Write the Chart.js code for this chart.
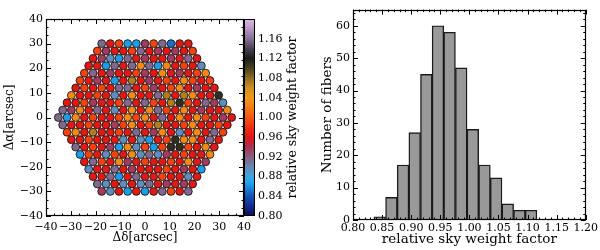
<!DOCTYPE html>
<html><head><meta charset="utf-8">
<script src="https://cdn.jsdelivr.net/npm/chart.js@4.4.1/dist/chart.umd.min.js"></script>
<style>
html,body{margin:0;padding:0;background:#fff;}
#wrap{position:relative;width:600px;height:250px;background:#fff;}
canvas{position:absolute;left:0;top:0;}
</style></head><body>
<div id="wrap">
<canvas id="map" width="600" height="250"></canvas>
<canvas id="cbar" width="600" height="250"></canvas>
<canvas id="hist" width="600" height="250"></canvas>
</div>
<script>
// ---------- DATA ----------
// fiber rows (top to bottom), relative sky weight factor per fiber, left to right
const rowY = [30,27,24,21,18,15,12,9,6,3,0,-3,-6,-9,-12,-15,-18,-21,-24,-27,-30];
const row30  = [0.915,0.962,0.99,0.865,0.865,0.935,0.99,0.915,0.85,0.962,0.962];
const row27  = [0.99,0.935,0.962,0.962,0.99,0.915,0.962,0.935,0.962,0.935,0.962,0.99];
const row24  = [0.962,0.935,0.895,0.865,0.915,0.962,0.935,0.962,0.962,0.935,0.962,0.915,0.962];
const row21  = [0.962,0.962,0.865,0.915,0.962,0.915,1.03,0.915,0.865,1.03,0.962,0.99,0.962,0.895];
const row18  = [0.99,0.915,0.962,0.935,0.962,0.962,0.99,0.935,0.962,1.03,0.962,0.935,0.962,0.99,1.03];
const row15  = [0.99,0.962,0.935,0.962,0.865,0.962,1.07,0.962,0.935,0.962,0.99,0.962,1.03,0.99,0.962,0.99];
const row12  = [0.962,0.99,0.962,0.99,0.962,0.915,0.915,0.962,0.99,0.935,0.962,0.99,1.03,0.962,0.935,0.962,0.962];
const row09  = [1.03,0.962,0.962,0.99,0.962,0.895,0.962,1.03,0.962,0.962,0.915,1.07,0.962,1.07,1.03,0.962,0.962,1.11];
const row06  = [0.962,0.962,0.99,0.935,0.962,0.962,0.99,0.915,0.962,0.915,0.99,0.962,1.07,1.11,0.99,0.962,0.915,0.935,0.895];
const row03  = [0.915,0.935,1.03,0.962,0.915,0.962,0.895,0.962,1.03,0.962,1.03,0.915,0.99,0.962,1.03,0.962,0.935,0.962,0.962,1.03];
const row00  = [0.915,0.865,1.03,0.962,0.99,0.962,0.962,0.99,1.03,0.99,1.03,0.962,0.915,0.962,1.03,0.962,1.03,0.99,0.962,0.935,0.962];
const rowM03 = [0.915,0.962,0.962,0.99,0.962,0.962,0.935,0.99,1.03,0.962,0.99,1.07,0.962,0.962,0.99,1.03,0.962,0.962,0.99,0.962];
const rowM06 = [0.99,1.03,0.962,1.07,0.962,0.962,0.99,0.962,0.915,0.962,0.935,1.03,0.962,0.895,0.962,1.03,0.962,0.915,0.99];
const rowM09 = [0.962,0.962,0.99,0.962,0.962,0.962,0.895,0.962,0.895,0.865,0.962,0.99,1.11,1.03,1.03,0.962,0.915,0.962];
const rowM12 = [0.915,0.962,0.99,0.962,0.935,0.865,1.03,0.895,0.99,0.865,0.99,1.11,1.11,0.99,0.962,1.03,0.962];
const rowM15 = [0.865,0.99,0.962,0.895,0.99,0.962,1.03,0.895,0.915,0.895,0.935,0.962,0.99,0.962,0.962,1.03];
const rowM18 = [0.962,0.915,0.99,0.962,1.03,0.935,0.962,0.99,0.962,0.962,0.99,0.962,1.03,0.962,0.935];
const rowM21 = [0.895,0.962,0.962,0.915,0.962,0.935,0.962,0.962,0.962,0.99,0.962,0.935,0.962,0.865];
const rowM24 = [0.962,0.962,0.915,0.865,0.962,0.915,0.962,0.962,0.99,0.962,0.962,0.895,0.962];
const rowM27 = [0.915,0.895,0.962,0.895,0.962,0.895,0.915,0.962,0.935,0.962,0.935,0.962];
const rowM30 = [0.935,0.895,0.962,0.865,0.962,0.865,0.962,0.915,0.99,0.962,0.915];
const fiberRows = [row30,row27,row24,row21,row18,row15,row12,row09,row06,row03,row00,
                   rowM03,rowM06,rowM09,rowM12,rowM15,rowM18,rowM21,rowM24,rowM27,rowM30];
const fiberPitch = 3.5; // arcsec between neighbouring fibers in a row

// histogram
const binCenters = [0.846,0.866,0.886,0.906,0.926,0.946,0.966,0.986,1.006,1.026,1.046,1.066,1.086,1.106];
const binCounts  = [1,7,17,27,45,60,58,47,28,17,13,5,3,3];

// ticks
const mapTicks  = [-40,-30,-20,-10,0,10,20,30,40];
const cbarTicks = [0.80,0.84,0.88,0.92,0.96,1.00,1.04,1.08,1.12,1.16];
const histXTicks = [0.80,0.85,0.90,0.95,1.00,1.05,1.10,1.15,1.20];
const histYTicks = [0,10,20,30,40,50,60];

// ---------- STYLE ----------
const FONT = "'DejaVu Serif', 'Liberation Serif', serif";
const cmapStops = [
 [0.80,'#0a0a55'],[0.82,'#102c90'],[0.84,'#1452b8'],[0.86,'#1a90e0'],[0.87,'#22a8f0'],
 [0.88,'#3ca6e2'],[0.90,'#6a86b2'],[0.92,'#8a5e80'],[0.94,'#aa3052'],[0.96,'#e01616'],
 [0.98,'#f22c10'],[1.00,'#f65610'],[1.02,'#f87a14'],[1.04,'#f09818'],[1.06,'#d09020'],
 [1.08,'#906c20'],[1.10,'#484020'],[1.12,'#1c1c1c'],[1.14,'#4a4250'],[1.16,'#86709a'],
 [1.18,'#b896c4'],[1.20,'#e0b8e8']];
function hex2rgb(h){return [parseInt(h.slice(1,3),16),parseInt(h.slice(3,5),16),parseInt(h.slice(5,7),16)];}
function cmap(v){
  const s=cmapStops;
  if(v<=s[0][0]) return s[0][1];
  for(let i=1;i<s.length;i++){
    if(v<=s[i][0]){
      const t=(v-s[i-1][0])/(s[i][0]-s[i-1][0]);
      const a=hex2rgb(s[i-1][1]), b=hex2rgb(s[i][1]);
      return 'rgb('+a.map((c,k)=>Math.round(c+(b[k]-c)*t)).join(',')+')';
    }
  }
  return s[s.length-1][1];
}

const fiberPoints=[];
fiberRows.forEach((vals,r)=>{
  const x0=-(vals.length-1)*fiberPitch/2;
  vals.forEach((v,i)=>fiberPoints.push({x:x0+i*fiberPitch,y:rowY[r],v:v}));
});

// frame + inward ticks on all four sides
const frameTicks={
  id:'frameTicks',
  afterDatasetsDraw(chart,args,o){
    const {ctx,chartArea:a,scales}=chart;
    ctx.save();
    ctx.strokeStyle='#000';ctx.lineWidth=1;
    function draw(scale,major,minor,horiz){
      const n=Math.floor((scale.max-scale.min)/minor+1e-6);
      for(let i=0;i<=n;i++){
        const v=scale.min+i*minor;
        const q=v/major;
        const isMajor=Math.abs(q-Math.round(q))<1e-4;
        const L=isMajor?o.majorLen:o.minorLen;
        const p=Math.round(scale.getPixelForValue(v))+0.5;
        ctx.beginPath();
        if(horiz){ctx.moveTo(p,a.bottom);ctx.lineTo(p,a.bottom-L);ctx.moveTo(p,a.top);ctx.lineTo(p,a.top+L);}
        else{ctx.moveTo(a.left,p);ctx.lineTo(a.left+L,p);ctx.moveTo(a.right,p);ctx.lineTo(a.right-L,p);}
        ctx.stroke();
      }
    }
    draw(scales.x,o.xMajor,o.xMinor,true);
    draw(scales.y,o.yMajor,o.yMinor,false);
    ctx.lineWidth=1.2;
    ctx.strokeRect(Math.round(a.left)+0.5,Math.round(a.top)+0.5,Math.round(a.width)-1,Math.round(a.height)-1);
    ctx.restore();
  }
};

const minus=v=>String(v).replace('-','\u2212');
const tickFont={family:FONT,size:11};

// ---------- MAP ----------
new Chart(document.getElementById('map'),{
  type:'scatter',
  data:{datasets:[{
    data:fiberPoints,
    pointRadius:3.95,
    pointBorderWidth:0.85,
    pointBorderColor:'#111',
    pointBackgroundColor:ctx=>cmap(ctx.raw.v)
  }]},
  options:{
    responsive:false,animation:false,events:[],devicePixelRatio:1,
    layout:{padding:{left:0,top:19,right:356,bottom:1}},
    plugins:{legend:{display:false},tooltip:{enabled:false},
      frameTicks:{xMajor:10,xMinor:10/3,yMajor:10,yMinor:10/3,majorLen:5,minorLen:2.5}},
    scales:{
      x:{type:'linear',min:-40,max:40,
        afterBuildTicks:s=>{s.ticks=mapTicks.map(v=>({value:v}));},
        ticks:{autoSkip:false,maxRotation:0,padding:5,color:'#000',font:tickFont,callback:minus},
        grid:{display:false,drawTicks:false},border:{display:false},
        title:{display:true,text:'\u0394\u03b4[arcsec]',color:'#000',font:{family:FONT,size:12},padding:{top:0,bottom:4}},
        afterFit:s=>{s.height=33;}},
      y:{type:'linear',min:-40,max:40,
        afterBuildTicks:s=>{s.ticks=mapTicks.map(v=>({value:v}));},
        ticks:{autoSkip:false,padding:3,color:'#000',font:tickFont,callback:minus},
        grid:{display:false,drawTicks:false},border:{display:false},
        title:{display:true,text:'\u0394\u03b1[arcsec]',color:'#000',font:{family:FONT,size:12},padding:{top:3,bottom:0}},
        afterFit:s=>{s.width=46;}}
    }
  },
  plugins:[frameTicks]
});

// ---------- COLORBAR ----------
const cbarPlugin={
  id:'cbarPlugin',
  beforeDatasetsDraw(chart){
    const {ctx,chartArea:a,scales}=chart;
    const y=scales.y;
    const g=ctx.createLinearGradient(0,y.getPixelForValue(0.8),0,y.getPixelForValue(1.2));
    cmapStops.forEach(s=>g.addColorStop((s[0]-0.8)/0.4,s[1]));
    ctx.save();
    ctx.fillStyle=g;
    ctx.fillRect(a.left,a.top,a.width,a.height);
    ctx.strokeStyle='#000';ctx.lineWidth=1;
    ctx.strokeRect(Math.round(a.left)+0.5,Math.round(a.top)+0.5,Math.round(a.width)-1,Math.round(a.height)-1);
    ctx.translate(293,(a.top+a.bottom)/2);
    ctx.rotate(-Math.PI/2);
    ctx.fillStyle='#000';
    ctx.font="12.5px "+FONT;
    ctx.textAlign='center';ctx.textBaseline='middle';
    ctx.fillText('relative sky weight factor',0,0);
    ctx.restore();
  }
};
new Chart(document.getElementById('cbar'),{
  type:'scatter',
  data:{datasets:[{data:[]}]},
  options:{
    responsive:false,animation:false,events:[],devicePixelRatio:1,
    layout:{padding:{left:244,top:19,right:300,bottom:34}},
    plugins:{legend:{display:false},tooltip:{enabled:false}},
    scales:{
      x:{display:false,min:0,max:1},
      y:{type:'linear',position:'right',min:0.8,max:1.2,
        afterBuildTicks:s=>{s.ticks=cbarTicks.map(v=>({value:v}));},
        ticks:{autoSkip:false,padding:3,color:'#000',font:tickFont,callback:v=>Number(v).toFixed(2)},
        grid:{display:false,drawTicks:false},border:{display:false},
        afterFit:s=>{s.width=45;}}
    }
  },
  plugins:[cbarPlugin]
});

// ---------- HISTOGRAM ----------
new Chart(document.getElementById('hist'),{
  type:'bar',
  data:{datasets:[{
    data:binCenters.map((c,i)=>({x:c,y:binCounts[i]})),
    backgroundColor:'#999999',borderColor:'#1a1a1a',borderWidth:1.4,borderSkipped:'bottom',
    barPercentage:1,categoryPercentage:1
  }]},
  options:{
    responsive:false,animation:false,events:[],devicePixelRatio:1,
    layout:{padding:{left:318,top:5,right:14,bottom:1}},
    plugins:{legend:{display:false},tooltip:{enabled:false},
      frameTicks:{xMajor:0.05,xMinor:0.01,yMajor:10,yMinor:2,majorLen:5,minorLen:2.5}},
    scales:{
      x:{type:'linear',min:0.8,max:1.2,offset:false,
        afterBuildTicks:s=>{s.ticks=histXTicks.map(v=>({value:v}));},
        ticks:{autoSkip:false,maxRotation:0,minRotation:0,padding:2,color:'#000',font:tickFont,callback:v=>Number(v).toFixed(2)},
        grid:{display:false,drawTicks:false,offset:false},border:{display:false},
        title:{display:true,text:'relative sky weight factor',color:'#000',font:{family:FONT,size:13.5},padding:{top:0,bottom:1}},
        afterFit:s=>{s.height=29;}},
      y:{type:'linear',min:0,max:65,
        afterBuildTicks:s=>{s.ticks=histYTicks.map(v=>({value:v}));},
        ticks:{autoSkip:false,padding:3,color:'#000',font:tickFont},
        grid:{display:false,drawTicks:false},border:{display:false},
        title:{display:true,text:'Number of fibers',color:'#000',font:{family:FONT,size:13.5},padding:{top:1,bottom:0}},
        afterFit:s=>{s.width=35;}}
    }
  },
  plugins:[frameTicks]
});
</script>
</body></html>
